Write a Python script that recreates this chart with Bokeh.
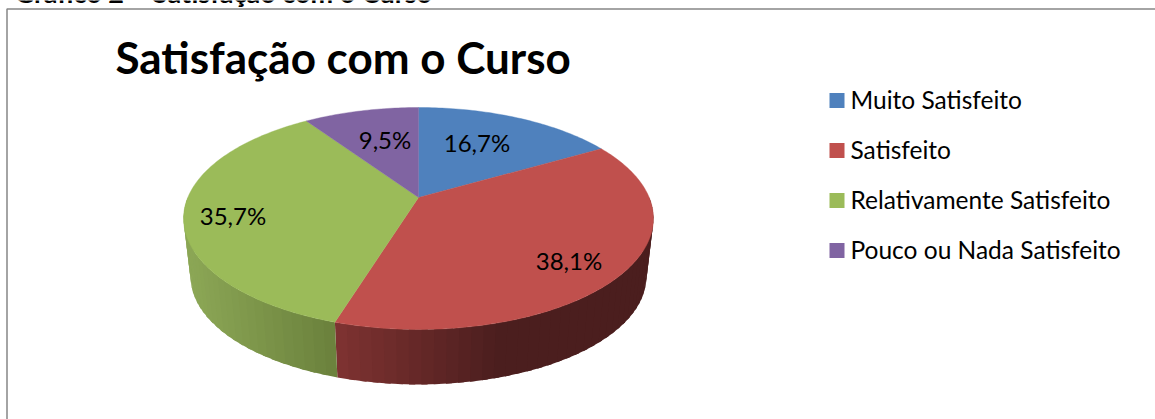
import math
from bokeh.plotting import figure
from bokeh.models import Range1d
from bokeh.core.properties import value
from bokeh.embed import file_html
from bokeh.resources import INLINE

caption = "Gráfico 2 – Satisfação com o Curso"
title = "Satisfação com o Curso"
categories = ["Muito Satisfeito", "Satisfeito", "Relativamente Satisfeito", "Pouco ou Nada Satisfeito"]
values = [16.7, 38.1, 35.7, 9.5]
labels = ["16,7%", "38,1%", "35,7%", "9,5%"]
colors = ["#4f81bd", "#c0504d", "#9bbb59", "#8064a2"]
label_pos = [(476.5, 142), (568.5, 260), (232.5, 215), (384.5, 139)]

W, H = 1155, 419
FONT = value("Lato")

p = figure(width=W, height=H, output_backend="svg", toolbar_location=None,
           x_range=Range1d(0, W), y_range=Range1d(H, 0), min_border=0,
           outline_line_color=None, background_fill_color="white", border_fill_color="white")
p.axis.visible = False
p.grid.visible = False

# projected disc
CX, AY, A, B, K = 418.0, 197.0, 230.7, 107.0, 0.189
S, LOW_Y = 0.97, 256.0

def rim(deg, scale=1.0, y0=AY):
    t = math.radians(deg)
    w = 1 + K * math.cos(t)
    return CX + scale * A * math.sin(t) / w, y0 - scale * B * math.cos(t) / w

def lerp(c0, c1, f):
    f = max(0.0, min(1.0, f))
    return "#%02x%02x%02x" % tuple(round(a + (b - a) * f) for a, b in zip(c0, c1))

# boundaries from the values
cum = [0.0]
for v in values:
    cum.append(cum[-1] + v)
ang = [c * 360.0 / sum(values) for c in cum]

# side walls, in bands that overlap the next one
def wall(a0, a1, c0, c1, x0, x1):
    n = int(abs(a1 - a0) / 2.5)
    step = (a1 - a0) / n
    xs, ys, cs = [], [], []
    for i in range(n):
        t0 = a0 + step * i
        t1 = t0 + step * (1.5 if i < n - 1 else 1.0)
        q = [rim(t0), rim(t1), rim(t1, S, LOW_Y), rim(t0, S, LOW_Y)]
        xs.append([c[0] for c in q])
        ys.append([c[1] for c in q])
        cs.append(lerp(c0, c1, ((q[0][0] + rim(t0 + step)[0]) / 2 - x0) / (x1 - x0)))
    p.patches(xs, ys, fill_color=cs, line_color=None)

wall(ang[2], 90, (0x7e, 0x32, 0x31), (0x4b, 0x1e, 0x1e), 337, 500)
wall(ang[2], 270, (0x6a, 0x80, 0x3c), (0x8b, 0xa6, 0x55), 337, 190)

# top faces
for i, col in enumerate(colors):
    n = max(4, int(ang[i + 1] - ang[i]))
    pts = [rim(ang[i] + (ang[i + 1] - ang[i]) * j / n) for j in range(n + 1)]
    p.patch([CX] + [c[0] for c in pts], [AY] + [c[1] for c in pts],
            fill_color=col, line_color=col, line_width=0.4)

# data labels
p.text([c[0] for c in label_pos], [c[1] for c in label_pos], text=labels,
       text_font=FONT, text_font_size="24px", text_color="#000000",
       text_align="center", text_baseline="middle")

# frame
p.line([6.5, 6.5, W], [H, 8.5, 8.5], line_color="#868686", line_width=1.5)

# caption, title
p.text([14], [-8], text=[caption], text_font=FONT, text_font_size="27px",
       text_font_style="bold", text_color="#000000", text_baseline="alphabetic")
p.text([115], [56], text=[title], text_font=FONT, text_font_size="44px",
       text_font_style="bold", text_color="#000000", text_baseline="alphabetic")

# legend
p.rect([836.5] * 4, [100 + 50 * i for i in range(4)], width=15, height=15,
       fill_color=colors, line_color=None)
p.text([850] * 4, [99 + 50 * i for i in range(4)], text=categories,
       text_font=FONT, text_font_size="24.5px", text_color="#000000",
       text_baseline="middle")

open("out.html", "w").write(file_html(p, INLINE))
